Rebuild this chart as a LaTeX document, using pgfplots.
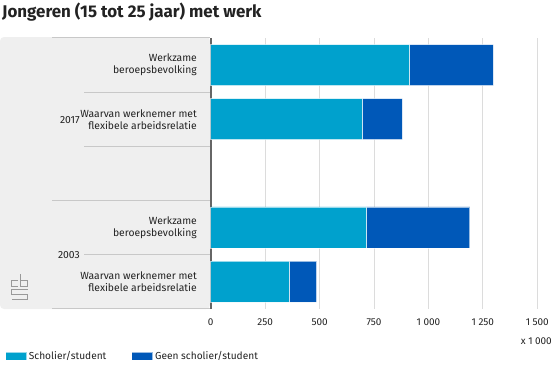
\documentclass[border=0pt]{standalone}
\usepackage{pgfplots}
\pgfplotsset{compat=1.18}
\usepackage{fontspec}
\setmainfont{Fira Sans}
\definecolor{cA}{HTML}{00A1CD}
\definecolor{cB}{HTML}{0058B8}
\definecolor{panel}{HTML}{EFEFEF}
\definecolor{sep}{HTML}{C8C8C8}
\definecolor{gridc}{HTML}{DCDCDC}
\definecolor{txt}{HTML}{222222}
\begin{document}
\begin{tikzpicture}[x=1bp,y=1bp]
\path[use as bounding box] (0,0) rectangle (557,368);
% title
\node[anchor=west, font=\fontsize{17}{19}\selectfont\bfseries, text=txt, inner sep=0pt] at (2,356) {Jongeren (15 tot 25 jaar) met werk};
% left panel
\fill[panel, rounded corners=4bp] (0,59) rectangle (210,331);
\draw[sep, line width=0.8bp] (52,330.5) -- (210,330.5);
\draw[sep, line width=0.8bp] (84,275.9) -- (210,275.9);
\draw[sep, line width=0.8bp] (84,221.7) -- (210,221.7);
\draw[sep, line width=0.8bp] (52,167.6) -- (210,167.6);
\draw[sep, line width=0.8bp] (84,113.4) -- (210,113.4);
\draw[sep, line width=0.8bp] (52,59.5) -- (210,59.5);
\node[anchor=east, font=\fontsize{10.4}{12}\selectfont, text=txt, inner sep=0pt] at (80,248) {2017};
\node[anchor=east, font=\fontsize{10.4}{12}\selectfont, text=txt, inner sep=0pt] at (80,113.4) {2003};
% logo (approximate)
\begin{scope}[draw=black!40, line width=0.7bp, double=panel, double distance=0.9bp]
\draw (18,88) -- (11.5,88) -- (11.5,81.5) -- (18,81.5);
\draw (20,94) -- (20,81.5) -- (27.5,81.5) -- (27.5,88) -- (20,88);
\draw (27.5,79) -- (11.5,79) -- (11.5,74) -- (27.5,74) -- (27.5,69) -- (11.5,69);
\end{scope}
\begin{axis}[
  at={(210.7bp,59.3bp)}, anchor=south west,
  scale only axis, width=326.6bp, height=270.7bp,
  xbar stacked, bar width=41bp,
  xmin=0, xmax=1500, ymin=-0.5, ymax=4.5,
  xtick={0,250,...,1500},
  ytick={0,1,3,4},
  yticklabels={{Waarvan werknemer met\\flexibele arbeidsrelatie},{Werkzame\\beroepsbevolking},{Waarvan werknemer met\\flexibele arbeidsrelatie},{Werkzame\\beroepsbevolking}},
  yticklabel style={align=right, inner sep=0pt, xshift=-13.7bp, font=\fontsize{10.4}{12}\selectfont, text=txt},
  xticklabel style={font=\fontsize{10}{11}\selectfont, text=txt, yshift=-7bp},
  /pgf/number format/assume math mode=true,
  /pgf/number format/1000 sep={\kern2.5bp},
  /pgf/number format/min exponent for 1000 sep=0,
  axis lines*=left,
  x axis line style={draw=none},
  y axis line style={draw=black!60, line width=1.6bp},
  tick style={draw=none},
  xmajorgrids, grid style={gridc, line width=0.8bp},
  clip=false,
  legend columns=2,
  legend style={at={(-0.639,-0.1747)}, anchor=west, draw=none, fill=none,
    font=\fontsize{10.2}{12}\selectfont, text=txt,
    /tikz/every even column/.append style={column sep=23bp}},
  legend image code/.code={\fill[#1] (0bp,-4bp) rectangle (21bp,4bp);},
]
\addplot[fill=cA, draw=white, draw opacity=0.6, line width=0.7bp] coordinates {(360,0) (715,1) (695,3) (912,4)};
\addplot[fill=cB, draw=white, draw opacity=0.6, line width=0.7bp] coordinates {(127,0) (475,1) (185,3) (386,4)};
\legend{Scholier/student, Geen scholier/student}
\end{axis}
\node[anchor=east, font=\fontsize{10}{11}\selectfont, text=txt, inner sep=0pt] at (552,27) {x 1\kern2.5bp000};
\end{tikzpicture}
\end{document}
